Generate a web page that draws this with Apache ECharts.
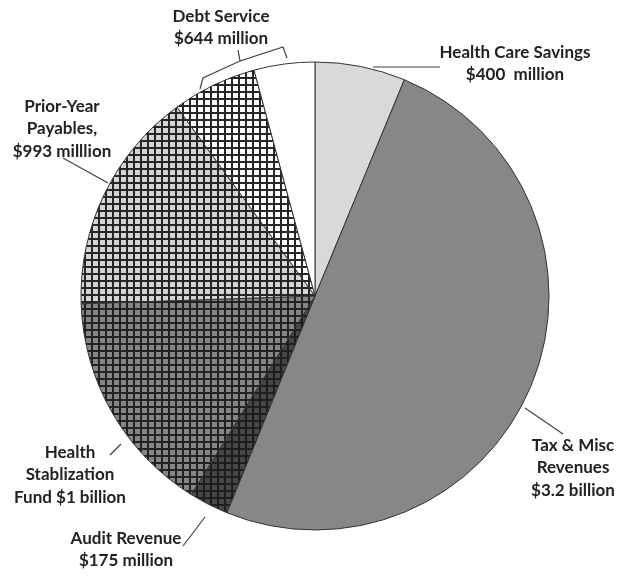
<!DOCTYPE html>
<html>
<head>
<meta charset="utf-8">
<script src="https://cdn.jsdelivr.net/npm/echarts@6/dist/echarts.min.js"></script>
<style>
html,body{margin:0;padding:0;background:#fff;}
#chart{width:618px;height:576px;}
</style>
</head>
<body>
<div id="chart"></div>
<script>
// Budget gap components (millions of dollars), clockwise from 12 o'clock
const sliceNames = ['Health Care Savings', 'Tax & Misc Revenues', 'Audit Revenue',
  'Health Stablization Fund', 'Prior-Year Payables', 'Debt Service (part 1)', 'Debt Service (part 2)'];
const sliceValues = [400, 3200, 175, 1000, 993, 375, 269];

// Callout texts
const labelTexts = {
  healthCare: 'Health Care Savings\n$400  million',
  tax: 'Tax & Misc\nRevenues\n$3.2 billion',
  audit: 'Audit Revenue\n$175 million',
  stab: 'Health\nStablization\nFund $1 billion',
  prior: 'Prior-Year\nPayables,\n$993 milllion',
  debt: 'Debt Service\n$644 million'
};

function gridPattern(bg, line) {
  const c = document.createElement('canvas');
  c.width = 7; c.height = 7;
  const g = c.getContext('2d');
  g.fillStyle = bg; g.fillRect(0, 0, 7, 7);
  g.fillStyle = line;
  g.fillRect(0, 0, 7, 2);
  g.fillRect(0, 0, 2, 7);
  return { image: c, repeat: 'repeat' };
}

const fills = [
  '#d9d9d9',
  '#878787',
  gridPattern('#474747', '#1e1e1e'),
  gridPattern('#858585', '#222222'),
  gridPattern('#d4d4d4', '#262626'),
  gridPattern('#ffffff', '#262626'),
  '#ffffff'
];

const chart = echarts.init(document.getElementById('chart'), null, { renderer: 'canvas' });
const font = { fontFamily: 'Lato', fontWeight: 'bold', fontSize: 17, fill: '#222222', lineHeight: 22.5 };

function txt(x, y, text, align) {
  return { type: 'text', x: x, y: y, style: Object.assign({ text: text, align: align || 'center', verticalAlign: 'top' }, font) };
}
function line(points) {
  return { type: 'polyline', shape: { points: points }, style: { stroke: '#404040', lineWidth: 1.2, fill: null } };
}

chart.setOption({
  animation: false,
  series: [{
    type: 'pie',
    center: [315, 296],
    radius: 234,
    startAngle: 90,
    clockwise: true,
    label: { show: false },
    labelLine: { show: false },
    emphasis: { disabled: true },
    itemStyle: { borderColor: '#333333', borderWidth: 1 },
    data: sliceNames.map((n, i) => ({ name: n, value: sliceValues[i], itemStyle: { color: fills[i] } }))
  }],
  graphic: [
    txt(221, 5, labelTexts.debt),
    line([[200, 89], [203, 78], [240, 61], [238, 50], [240, 61], [283, 47], [287, 58]]),
    txt(515, 41, labelTexts.healthCare),
    line([[373, 67], [440, 67]]),
    txt(573, 434, labelTexts.tax),
    line([[525, 408], [563, 434]]),
    txt(70, 441, labelTexts.stab),
    line([[110, 455], [121, 444]]),
    txt(126, 527, labelTexts.audit),
    line([[183, 546], [205, 517]]),
    txt(62, 95, labelTexts.prior),
    line([[63, 158], [108, 183]])
  ]
});
</script>
</body>
</html>
